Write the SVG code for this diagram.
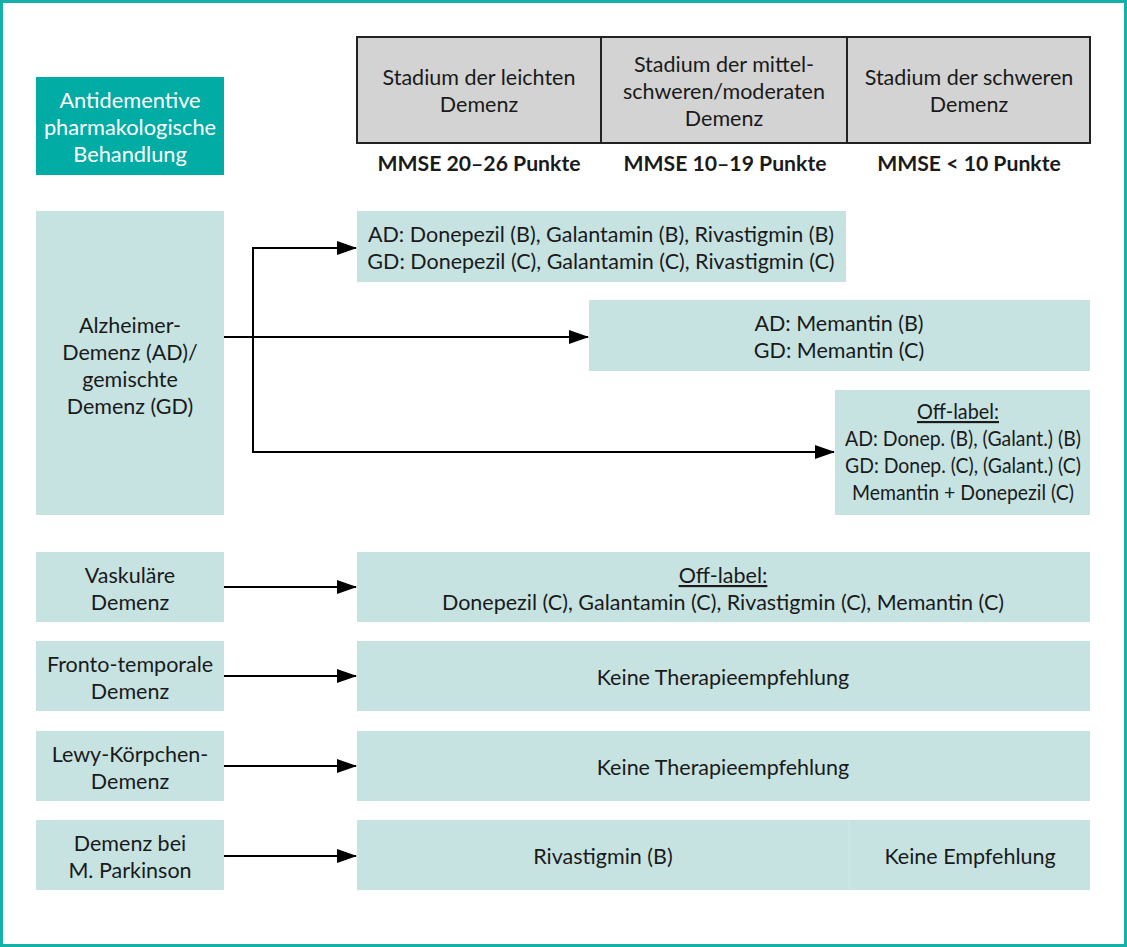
<svg xmlns="http://www.w3.org/2000/svg" width="1127" height="947" viewBox="0 0 1127 947">
<defs>
<style>
text{font-family:Lato,"Open Sans","Liberation Sans",sans-serif;font-size:21.5px;fill:#1a1a1a;text-anchor:middle}
.box{fill:#c6e3e2}
.hdr{fill:#d3d3d3;stroke:#222;stroke-width:2}
.w{fill:#fff;font-size:21.8px}
.b{font-weight:bold;font-size:21.2px}
.u{text-decoration:underline}
.c{fill:none;stroke:#000;stroke-width:2}
</style>
<marker id="ah" markerWidth="20" markerHeight="14" refX="19" refY="7" orient="auto" markerUnits="userSpaceOnUse">
<path d="M0,0 L20,7 L0,14 Z" fill="#000"/>
</marker>
</defs>
<rect x="0" y="0" width="1127" height="947" fill="#fff"/>
<rect x="1.5" y="1.5" width="1124" height="944" fill="none" stroke="#13b1a8" stroke-width="3"/>

<g id="title">
<rect x="36" y="77" width="188" height="98" fill="#00aca4"/>
<text class="w" x="130" y="108">Antidementive</text>
<text class="w" x="130" y="135">pharmakologische</text>
<text class="w" x="130" y="162">Behandlung</text>
</g>

<g id="header">
<rect class="hdr" x="357" y="37" width="244" height="106"/>
<rect class="hdr" x="601" y="37" width="246" height="106"/>
<rect class="hdr" x="847" y="37" width="243" height="106"/>
<text x="479" y="85">Stadium der leichten</text>
<text x="479" y="112">Demenz</text>
<text x="724" y="72">Stadium der mittel-</text>
<text x="724" y="99">schweren/moderaten</text>
<text x="724" y="126">Demenz</text>
<text x="969" y="85">Stadium der schweren</text>
<text x="969" y="112">Demenz</text>
<text class="b" x="479" y="171">MMSE 20–26 Punkte</text>
<text class="b" x="725" y="171">MMSE 10–19 Punkte</text>
<text class="b" x="969" y="171">MMSE &lt; 10 Punkte</text>
</g>

<g id="alzheimer">
<rect class="box" x="36" y="211" width="188" height="304"/>
<text x="130" y="333">Alzheimer-</text>
<text x="130" y="360">Demenz (AD)/</text>
<text x="130" y="387">gemischte</text>
<text x="130" y="414">Demenz (GD)</text>
</g>
<g id="ad-mild">
<rect class="box" x="357" y="211" width="489" height="71"/>
<text x="601" y="242">AD: Donepezil (B), Galantamin (B), Rivastigmin (B)</text>
<text x="601" y="269">GD: Donepezil (C), Galantamin (C), Rivastigmin (C)</text>
</g>
<g id="ad-moderate">
<rect class="box" x="589" y="300" width="501" height="71"/>
<text x="839" y="331">AD: Memantin (B)</text>
<text x="839" y="358">GD: Memantin (C)</text>
</g>
<g id="ad-offlabel">
<rect class="box" x="835" y="390" width="255" height="125"/>
<text class="u" x="958" y="419" textLength="82" lengthAdjust="spacingAndGlyphs">Off-label:</text>
<text x="963" y="446" textLength="236" lengthAdjust="spacingAndGlyphs">AD: Donep. (B), (Galant.) (B)</text>
<text x="963" y="473" textLength="236" lengthAdjust="spacingAndGlyphs">GD: Donep. (C), (Galant.) (C)</text>
<text x="963" y="500" textLength="222" lengthAdjust="spacingAndGlyphs">Memantin + Donepezil (C)</text>
</g>

<g id="vaskulaer">
<rect class="box" x="36" y="552" width="188" height="70"/>
<text x="130" y="583">Vaskuläre</text>
<text x="130" y="610">Demenz</text>
</g>
<g id="vaskulaer-th">
<rect class="box" x="357" y="552" width="733" height="70"/>
<text class="u" x="723" y="583">Off-label:</text>
<text x="723" y="610">Donepezil (C), Galantamin (C), Rivastigmin (C), Memantin (C)</text>
</g>

<g id="ftd">
<rect class="box" x="36" y="641" width="188" height="70"/>
<text x="130" y="672">Fronto-temporale</text>
<text x="130" y="699">Demenz</text>
</g>
<g id="ftd-th">
<rect class="box" x="357" y="641" width="733" height="70"/>
<text x="723" y="685">Keine Therapieempfehlung</text>
</g>

<g id="lewy">
<rect class="box" x="36" y="731" width="188" height="70"/>
<text x="130" y="762">Lewy-Körpchen-</text>
<text x="130" y="789">Demenz</text>
</g>
<g id="lewy-th">
<rect class="box" x="357" y="731" width="733" height="70"/>
<text x="723" y="775">Keine Therapieempfehlung</text>
</g>

<g id="parkinson">
<rect class="box" x="36" y="820" width="188" height="70"/>
<text x="130" y="851">Demenz bei</text>
<text x="130" y="878">M. Parkinson</text>
</g>
<g id="parkinson-th">
<rect class="box" x="357" y="820" width="733" height="70"/>
<line x1="849" y1="820" x2="849" y2="890" stroke="#cfe8e7" stroke-width="1"/>
<text x="603" y="864">Rivastigmin (B)</text>
<text x="970" y="864">Keine Empfehlung</text>
</g>

<g id="connectors">
<path class="c" d="M224,337 H588" marker-end="url(#ah)"/>
<path class="c" d="M253,452 V248 H356" marker-end="url(#ah)"/>
<path class="c" d="M253,337 V452 H834" marker-end="url(#ah)"/>
<path class="c" d="M224,587 H356" marker-end="url(#ah)"/>
<path class="c" d="M224,676 H356" marker-end="url(#ah)"/>
<path class="c" d="M224,766 H356" marker-end="url(#ah)"/>
<path class="c" d="M224,856 H356" marker-end="url(#ah)"/>
</g>
</svg>
